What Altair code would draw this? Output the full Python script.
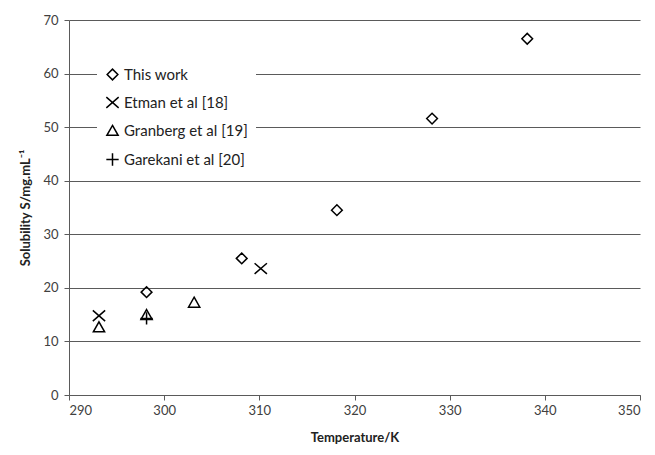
import altair as alt
import pandas as pd

series_names = ["This work", "Etman et al [18]", "Granberg et al [19]", "Garekani et al [20]"]

this_work_T = [298.15, 308.15, 318.15, 328.15, 338.15]
this_work_S = [19.2, 25.5, 34.5, 51.6, 66.5]

etman_T = [293.15, 310.15]
etman_S = [14.8, 23.6]

granberg_T = [293.15, 298.15, 303.15]
granberg_S = [12.7, 15.0, 17.3]

garekani_T = [298.15]
garekani_S = [14.3]

x_ticks = [290, 300, 310, 320, 330, 340, 350]
y_ticks = [0, 10, 20, 30, 40, 50, 60, 70]

rows = []
for name, T, S in [
    (series_names[0], this_work_T, this_work_S),
    (series_names[1], etman_T, etman_S),
    (series_names[2], granberg_T, granberg_S),
    (series_names[3], garekani_T, garekani_S),
]:
    for t, s in zip(T, S):
        rows.append({"series": name, "T": t, "S": s})
df = pd.DataFrame(rows)

shapes = [
    "M-1,0L0,-1L1,0L0,1Z",
    "M-1.15,-1L1.15,1M-1.15,1L1.15,-1",
    "M0,-0.95L1.05,0.9L-1.05,0.9Z",
    "M-1.15,0L1.15,0M0,-1.15L0,1.15",
]

FONT = "Lato"
TXT = "#404040"

chart = alt.Chart(df).mark_point(filled=False, strokeWidth=1.5, color="black", opacity=1).encode(
    x=alt.X("T:Q", title="Temperature/K",
            scale=alt.Scale(domain=[290, 350], nice=False, zero=False),
            axis=alt.Axis(values=x_ticks, grid=False, tickSize=5, labelPadding=4,
                          titlePadding=14)),
    y=alt.Y("S:Q", title="Solubility S/mg.mL⁻¹",
            scale=alt.Scale(domain=[0, 70], nice=False),
            axis=alt.Axis(values=y_ticks, grid=True, tickSize=5, labelPadding=6,
                          titlePadding=10)),
    shape=alt.Shape("series:N",
                    scale=alt.Scale(domain=series_names, range=shapes),
                    sort=series_names,
                    legend=alt.Legend(title=None, orient="none", legendX=28, legendY=39,
                                      fillColor="white", padding=8, rowPadding=11,
                                      symbolSize=115, symbolStrokeColor="black",
                                      symbolStrokeWidth=1.5, symbolFillColor="transparent",
                                      symbolType="circle",
                                      labelFont=FONT, labelFontSize=15, labelColor="#222222",
                                      labelOffset=4)),
    size=alt.value(115),
).properties(
    width=571, height=375,
    padding={"left": 61, "top": 12, "right": 7, "bottom": 58},
    autosize=alt.AutoSizeParams(type="none"),
).configure_view(stroke=None).configure_axis(
    domainColor="#5a5a5a", tickColor="#5a5a5a", gridColor="#5a5a5a", gridWidth=1,
    labelFont=FONT, labelFontSize=13, labelColor=TXT,
    titleFont=FONT, titleFontSize=13, titleColor="#222222", titleFontWeight="bold",
)

chart.save("out.html", embed_options={"renderer": "svg", "actions": False})
